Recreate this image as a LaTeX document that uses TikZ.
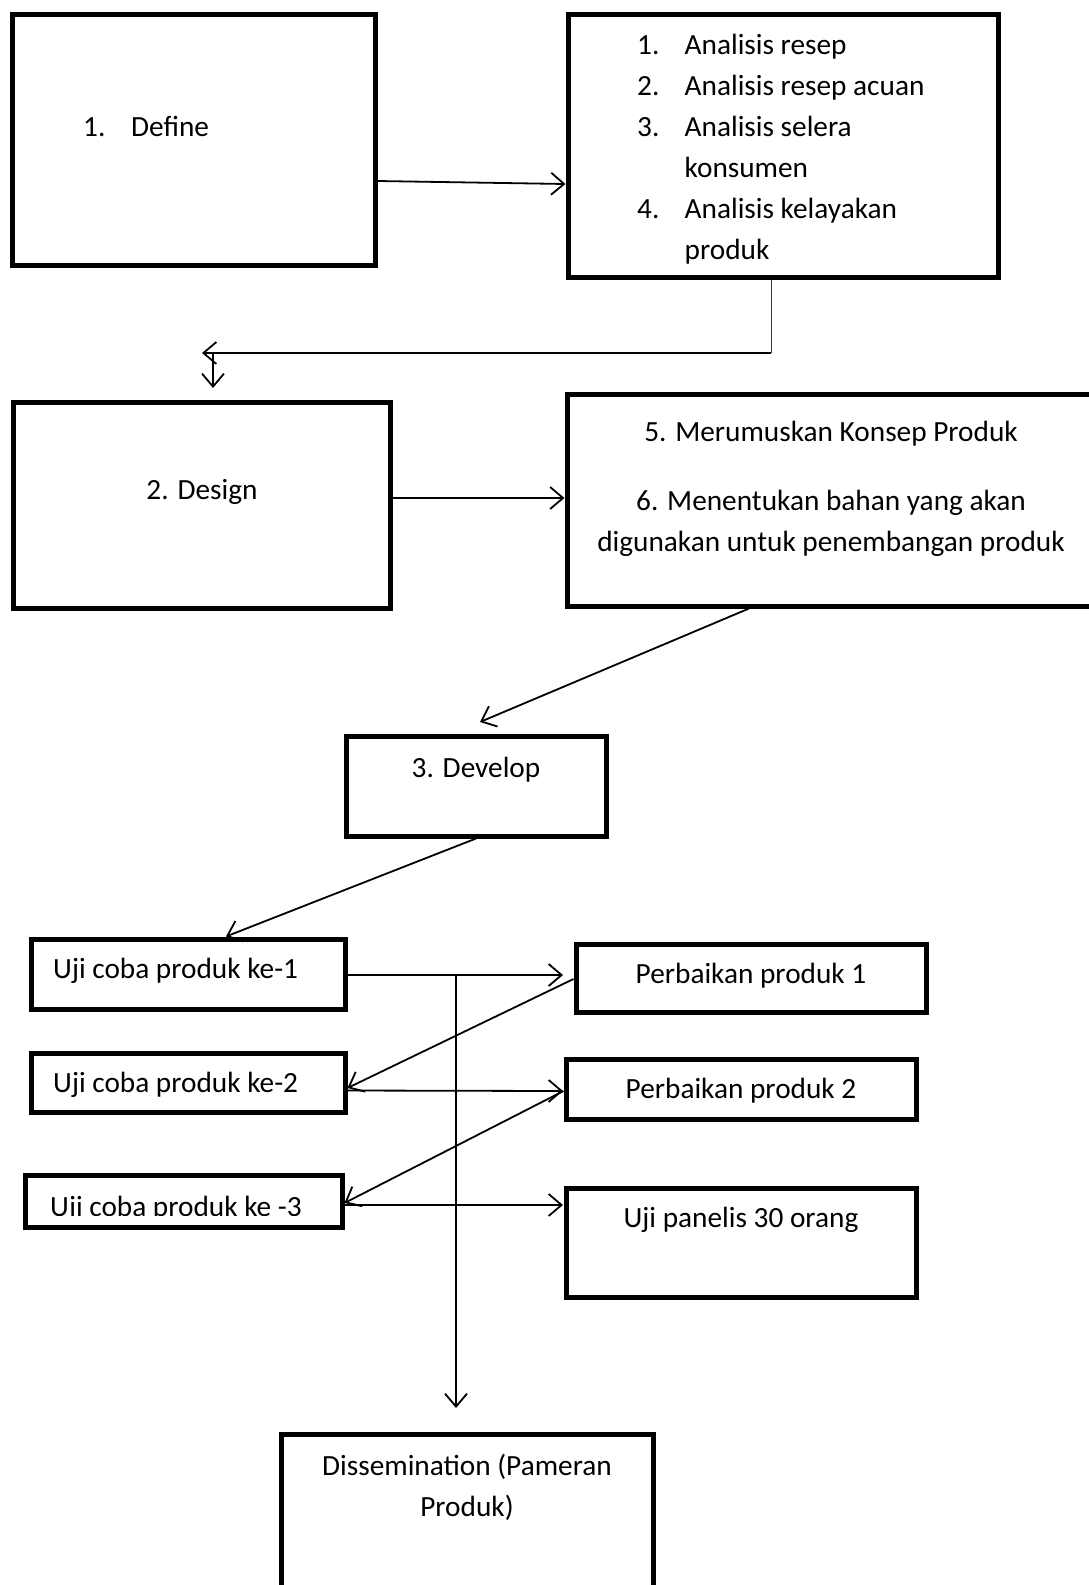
\documentclass[tikz,border=0pt]{standalone}
\usepackage{fontspec}
\setmainfont{Carlito}
\usetikzlibrary{arrows.meta}

\begin{document}
\begin{tikzpicture}[x=1pt, y=-1pt,
        box/.style={draw, rectangle, line width=5pt, inner sep=0pt},
        txt/.style={font=\fontsize{29.3}{41}\selectfont, inner sep=0pt},
        arrow/.style={-{Straight Barb[length=13pt, width=22pt]}, line width=1.8pt},
        link/.style={line width=1.8pt}
    ]
        \useasboundingbox (0,0) rectangle (1089,1585);

        % === Define ===
        \node[box, minimum width=363, minimum height=251] (define) at (193.5,139.5) {};
        \node[txt, anchor=base west] (definet) at (83,136) {\makebox[48pt][l]{1.}Define};

        \node[box, minimum width=430, minimum height=263] (analisis) at (783,145.5) {};
        % base of a multi-line node = last line
        \node[txt, anchor=base west, align=left] (analisist) at (637,259.5)
            {\makebox[47.5pt][l]{1.}Analisis resep\\
             \makebox[47.5pt][l]{2.}Analisis resep acuan\\
             \makebox[47.5pt][l]{3.}Analisis selera\\
             \hspace*{47.5pt}konsumen\\
             \makebox[47.5pt][l]{4.}Analisis kelayakan\\
             \hspace*{47.5pt}produk};

        \draw[arrow] ([yshift=-41.5pt]define.east) -- ([yshift=-38.5pt]analisis.west);

        % back to the left, then down to Design
        \coordinate (turn) at (771,353);
        \coordinate (back) at (202,353);
        \coordinate (split) at (213,353);
        \coordinate (designin) at (213,388);
        \draw[line width=1pt, black!80] ([xshift=-12pt]analisis.south) -- (turn);
        \draw[arrow] (turn) -- (back);
        \draw[arrow] (split) -- (designin);

        % === Design ===
        \node[box, minimum width=377, minimum height=206] (design) at (201.5,505) {};
        \node[txt, anchor=base] (designt) at (202,499) {2. Design};

        \node[box, minimum width=533, minimum height=212] (konsep) at (833.5,500) {};
        \node[txt, anchor=base, align=center] (konsept) at (831,551)
            {5. Merumuskan Konsep Produk\\[28pt]
             6. Menentukan bahan yang akan\\
             digunakan untuk penembangan produk};

        \draw[arrow] ([yshift=7pt]design.east) -- ([yshift=2pt]konsep.west);

        % === Develop ===
        \node[box, minimum width=260, minimum height=100] (develop) at (476,786) {};
        \node[txt, anchor=base] (developt) at (476,777) {3. Develop};

        \coordinate (devin) at (480,722);
        \draw[arrow] ([xshift=-84.5pt]konsep.south) -- (devin);

        % === Uji coba ===
        \node[box, minimum width=314, minimum height=70] (uji1) at (188,974) {};
        \node[txt, anchor=base west] (uji1t) at (53,978) {Uji coba produk ke-1};

        \node[box, minimum width=314, minimum height=59] (uji2) at (188,1082.5) {};
        \node[txt, anchor=base west] (uji2t) at (53,1092) {Uji coba produk ke-2};

        \node[box, minimum width=317, minimum height=52] (uji3) at (183.5,1201) {};
        \begin{scope}
            \clip (uji3.north west) rectangle ([yshift=14pt]uji3.south east);
            \node[txt, anchor=base west] (uji3t) at (50,1216) {Uji coba produk ke -3};
        \end{scope}

        \node[box, minimum width=350, minimum height=68] (perb1) at (751,978) {};
        \node[txt, anchor=base] (perb1t) at (751,983) {Perbaikan produk 1};

        \node[box, minimum width=350, minimum height=60] (perb2) at (741,1089) {};
        \node[txt, anchor=base] (perb2t) at (741,1098) {Perbaikan produk 2};

        \node[box, minimum width=350, minimum height=109] (panelis) at (741,1242.5) {};
        \node[txt, anchor=base] (panelist) at (741,1227) {Uji panelis 30 orang};

        \draw[arrow] (develop.south) -- ([xshift=38pt]uji1.north);

        \coordinate (p1in) at (563,975);
        \coordinate (p2in) at (563,1091);
        \coordinate (panin) at (563,1205);
        \draw[arrow] ([yshift=-1pt]uji1.east) -- (p1in);
        \draw[arrow] ([yshift=-1pt]perb1.west) -- ([yshift=-5.5pt]uji2.east);
        \draw[arrow] ([yshift=-8pt]uji2.east) -- (p2in);
        \draw[arrow] ([yshift=-2pt]perb2.west) -- ([yshift=-2pt]uji3.east);
        \draw[arrow] ([yshift=-4pt]uji3.east) -- (panin);

        % === Dissemination ===
        \node[box, minimum width=372, minimum height=180] (dissem) at (467,1524) {};
        \node[txt, anchor=base, align=center] (dissemt) at (467,1516)
            {Dissemination (Pameran\\Produk)};

        \coordinate (branch) at (456,975);
        \coordinate (dissin) at (456,1408);
        \draw[arrow] (branch) -- (dissin);

    \end{tikzpicture}
\end{document}
